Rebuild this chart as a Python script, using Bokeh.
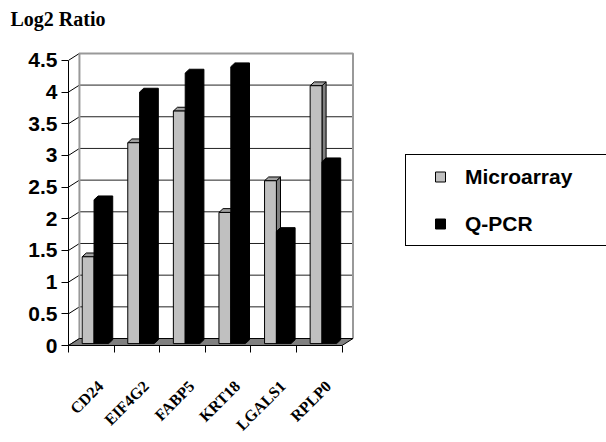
import math
from bokeh.plotting import figure
from bokeh.models import FixedTicker, Range1d, Legend, LegendItem, ColumnDataSource, Title
from bokeh.embed import file_html
from bokeh.resources import INLINE

# ---- data ----
categories = ["CD24", "EIF4G2", "FABP5", "KRT18", "LGALS1", "RPLP0"]
microarray = [1.4, 3.2, 3.7, 2.1, 2.6, 4.1]
qpcr = [2.3, 4.0, 4.3, 4.4, 1.8, 2.9]
series_names = ["Microarray", "Q-PCR"]
y_ticks = [0, 0.5, 1, 1.5, 2, 2.5, 3, 3.5, 4, 4.5]
y_tick_labels = ["0", "0.5", "1", "1.5", "2", "2.5", "3", "3.5", "4", "4.5"]
title_text = "Log2 Ratio"

# ---- pseudo-3D geometry (style) ----
WALL_DX, WALL_DY = 0.24, 0.11
BAR_DX, BAR_DY = 0.09, 0.06
BASE = 0.03
G0, G1 = 0.30, 0.56
K0, K1 = 0.56, 0.88
LABEL_SHIFT = 0.2
n = len(categories)
ymax = y_ticks[-1]

p = figure(width=606, height=442, output_backend="svg", toolbar_location=None, tools="",
           title=None,
           x_range=Range1d(0, 11.8), y_range=Range1d(0, ymax + WALL_DY + 0.03),
           min_border_left=68, min_border_right=0, min_border_top=51, min_border_bottom=96)
p.outline_line_color = None
p.xgrid.visible = False
p.ygrid.visible = False

# back wall gridlines
inner = [t for t in y_ticks if 0 < t < ymax]
p.segment(x0=[WALL_DX] * len(inner), y0=[t + WALL_DY for t in inner],
          x1=[n + WALL_DX] * len(inner), y1=[t + WALL_DY for t in inner],
          line_color="#222222", line_width=1)
# side wall diagonals
p.segment(x0=[0] * len(y_ticks), y0=y_ticks,
          x1=[WALL_DX] * len(y_ticks), y1=[t + WALL_DY for t in y_ticks],
          line_color="black", line_width=1)
# back wall frame edges
p.line(x=[WALL_DX, WALL_DX, n + WALL_DX, n + WALL_DX],
       y=[WALL_DY, ymax + WALL_DY, ymax + WALL_DY, WALL_DY],
       line_color="#999999", line_width=2)
# floor
p.patch(x=[0, n, n + WALL_DX, WALL_DX], y=[0, 0, WALL_DY, WALL_DY],
        fill_color="#808080", line_color="black", line_width=1)

# grey (Microarray) bars
gl = [i + G0 for i in range(n)]
gr = [i + G1 for i in range(n)]
p.patches(xs=[[r, r + BAR_DX, r + BAR_DX, r] for r in gr],
          ys=[[BASE, BASE + BAR_DY, v + BAR_DY, v] for v in microarray],
          fill_color="#808080", line_color="black", line_width=1)
p.patches(xs=[[l, l + BAR_DX, r + BAR_DX, r] for l, r in zip(gl, gr)],
          ys=[[v, v + BAR_DY, v + BAR_DY, v] for v in microarray],
          fill_color="#A0A0A0", line_color="black", line_width=1)
p.quad(left=gl, right=gr, bottom=[BASE] * n, top=microarray,
       fill_color="#C0C0C0", line_color="black", line_width=1)

# black (Q-PCR) bars
kl = [i + K0 for i in range(n)]
kr = [i + K1 for i in range(n)]
p.patches(xs=[[l, r, r + BAR_DX, r + BAR_DX, l + BAR_DX, l] for l, r in zip(kl, kr)],
          ys=[[BASE, BASE, BASE + BAR_DY, v + BAR_DY, v + BAR_DY, v] for v in qpcr],
          fill_color="black", line_color="black", line_width=1)

# legend proxies (off-screen single points, only their legend swatches show)
proxy = ColumnDataSource(data=dict(x=[float("nan")], y=[float("nan")]))
r1 = p.scatter(x="x", y="y", source=proxy, marker="square", fill_color="#C0C0C0", line_color="black")
r2 = p.scatter(x="x", y="y", source=proxy, marker="square", fill_color="black", line_color="black")
legend = Legend(items=[LegendItem(label=series_names[0], renderers=[r1]),
                       LegendItem(label=series_names[1], renderers=[r2])],
                location=(337, 99), glyph_width=50, glyph_height=25, label_height=25,
                label_standoff=0, label_width=132, padding=9, spacing=22,
                border_line_color="black", border_line_width=1, border_line_alpha=1.0,
                label_text_font="Liberation Sans", label_text_font_style="bold",
                label_text_font_size="21px", label_text_color="black",
                background_fill_color="white", background_fill_alpha=1.0)
p.add_layout(legend)

# axes
p.yaxis.ticker = FixedTicker(ticks=y_ticks)
p.yaxis.major_label_overrides = dict(zip(y_ticks, y_tick_labels))
p.yaxis.bounds = (0, ymax)
p.yaxis.axis_line_color = "black"
p.yaxis.major_tick_in = 0
p.yaxis.major_tick_out = 7
p.yaxis.minor_tick_line_color = None
p.yaxis.major_label_standoff = 4
p.yaxis.major_label_text_font = "Liberation Sans"
p.yaxis.major_label_text_font_style = "bold"
p.yaxis.major_label_text_font_size = "21px"
p.yaxis.major_label_text_color = "black"

label_pos = [i + 0.5 + LABEL_SHIFT for i in range(n)]
p.xaxis.ticker = FixedTicker(ticks=label_pos, minor_ticks=list(range(n + 1)))
p.xaxis.major_label_overrides = dict(zip(label_pos, categories))
p.xaxis.bounds = (0, n)
p.xaxis.axis_line_color = "black"
p.xaxis.major_tick_line_color = None
p.xaxis.major_tick_in = 0
p.xaxis.major_tick_out = 0
p.xaxis.minor_tick_line_color = "black"
p.xaxis.minor_tick_in = 0
p.xaxis.minor_tick_out = 7
p.xaxis.major_label_orientation = math.pi / 4
p.xaxis.major_label_standoff = 31
p.xaxis.major_label_text_font = "Liberation Serif"
p.xaxis.major_label_text_font_style = "bold"
p.xaxis.major_label_text_font_size = "16px"
p.xaxis.major_label_text_color = "black"

# title: a thin spacer panel next to the frame, then the title text
spacer = Title(text=" ", text_font_size="1px", standoff=17)
p.add_layout(spacer, "above")
title = Title(text=title_text, align="left", offset=-58, vertical_align="bottom",
              text_font="Liberation Serif", text_font_style="bold", text_font_size="20px",
              text_color="black", standoff=4)
p.add_layout(title, "above")

open("out.html", "w").write(file_html(p, INLINE))
